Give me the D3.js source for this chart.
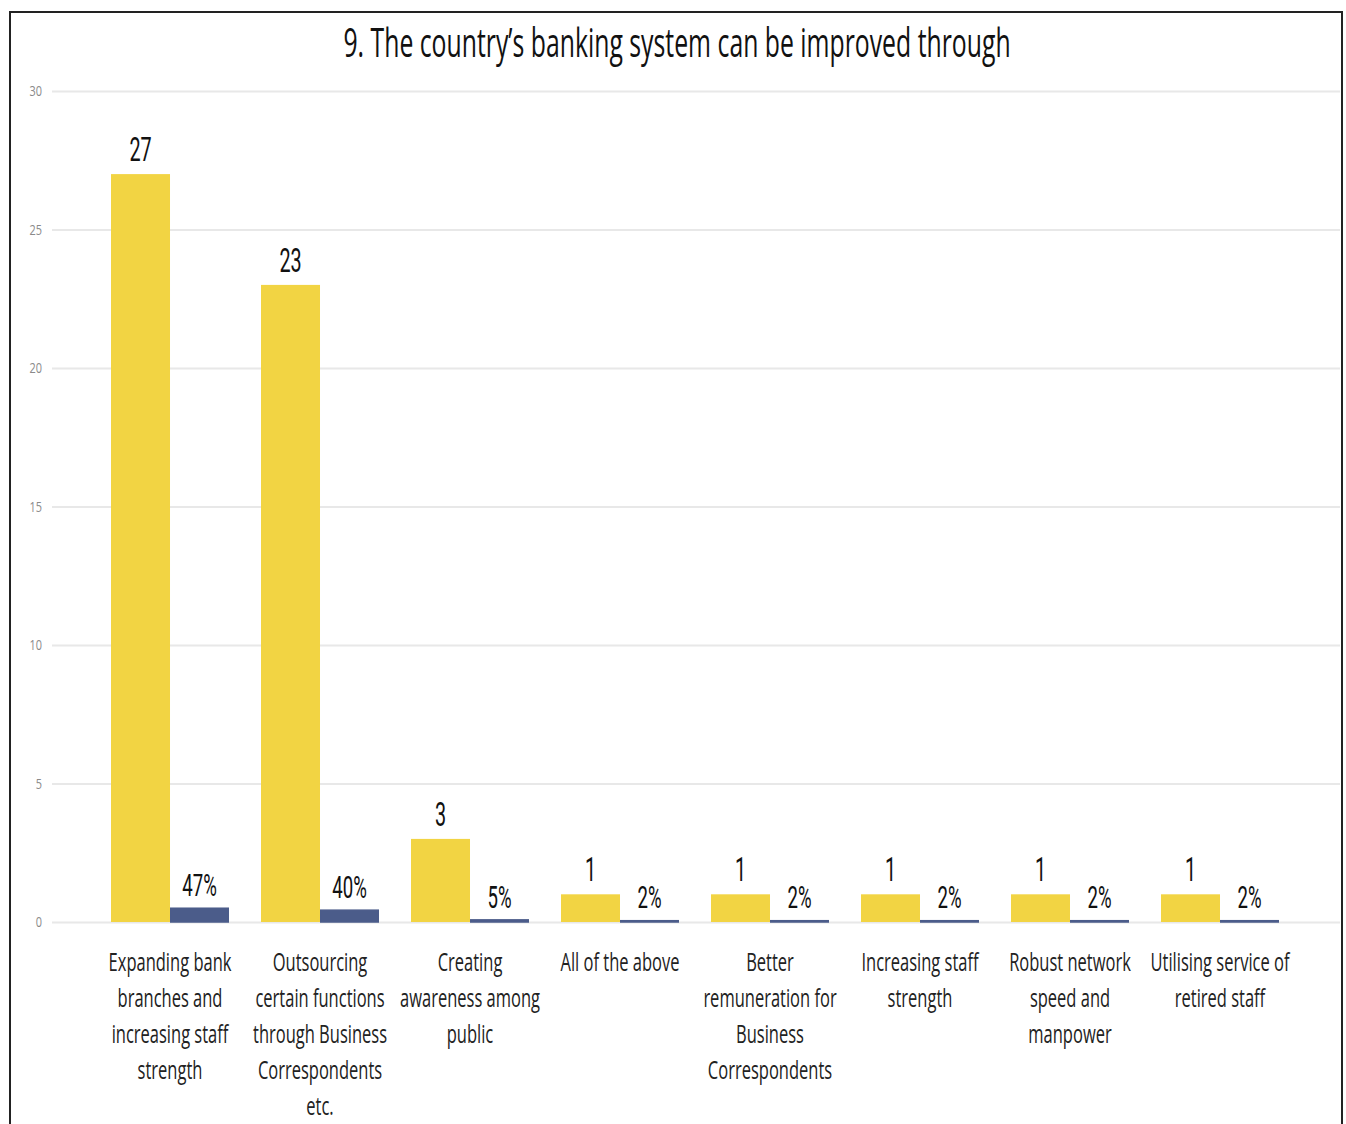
<!DOCTYPE html>
<html>
<head>
<meta charset="utf-8">
<script src="https://cdn.jsdelivr.net/npm/d3@7"></script>
<style>
  html, body { margin: 0; padding: 0; background: #fff; }
  svg { display: block; }
</style>
</head>
<body>
<svg id="chart" width="1346" height="1124"></svg>
<script>
// Survey answers: number of respondents and share of all responses
const categories = [
  "Expanding bank branches and increasing staff strength",
  "Outsourcing certain functions through Business Correspondents etc.",
  "Creating awareness among public",
  "All of the above",
  "Better remuneration for Business Correspondents",
  "Increasing staff strength",
  "Robust network speed and manpower",
  "Utilising service of retired staff"
];
// Wrapped lines for the axis labels
const categoryLines = [
  ["Expanding bank", "branches and", "increasing staff", "strength"],
  ["Outsourcing", "certain functions", "through Business", "Correspondents", "etc."],
  ["Creating", "awareness among", "public"],
  ["All of the above"],
  ["Better", "remuneration for", "Business", "Correspondents"],
  ["Increasing staff", "strength"],
  ["Robust network", "speed and", "manpower"],
  ["Utilising service of", "retired staff"]
];
const counts = [27, 23, 3, 1, 1, 1, 1, 1];
const shares = [0.47, 0.40, 0.05, 0.02, 0.02, 0.02, 0.02, 0.02];
const yTicks = [0, 5, 10, 15, 20, 25, 30];
const titleText = "9. The country\u2019s banking system can be improved through";

const svg = d3.select("#chart");
const W = 1346, H = 1124;

const yellow = "#F2D443";
const blue = "#4B5C8A";

// Outer frame
svg.append("rect")
  .attr("x", 10).attr("y", 12)
  .attr("width", 1332).attr("height", H)
  .attr("fill", "#fff")
  .attr("stroke", "#222").attr("stroke-width", 2);

const plot = { left: 52, right: 1340, top: 91, bottom: 922 };

const y = d3.scaleLinear().domain([0, 30]).range([plot.bottom, plot.top]);

const x0 = d3.scaleBand()
  .domain(categories)
  .range([95, 1295])
  .paddingInner(0.2133)
  .paddingOuter(0.1067);

const x1 = d3.scaleBand()
  .domain(["count", "share"])
  .range([0, x0.bandwidth()]);

// Condensed text: draw at origin, then place & squeeze horizontally
function place(sel, sx) {
  return sel.attr("transform", function () {
    const d = d3.select(this);
    return `translate(${d.attr("data-x")},${d.attr("data-y")}) scale(${sx},1)`;
  });
}

// Gridlines
const yAxis = d3.axisLeft(y)
  .tickValues(yTicks)
  .tickSize(-(plot.right - plot.left))
  .tickPadding(10);

const gAxis = svg.append("g")
  .attr("transform", `translate(${plot.left},0)`)
  .call(yAxis);
gAxis.select(".domain").remove();
gAxis.selectAll(".tick line")
  .attr("stroke", "#e8e8e8").attr("stroke-width", 2);
gAxis.selectAll(".tick text")
  .attr("font-family", "Open Sans, sans-serif")
  .attr("font-size", 14)
  .attr("fill", "#8a8a8a")
  .attr("x", null)
  .attr("dy", "0.35em")
  .attr("transform", "translate(-10,0) scale(0.78,1)");

// Bars
const groups = svg.append("g").selectAll("g")
  .data(categories)
  .join("g")
  .attr("transform", d => `translate(${x0(d)},0)`);

groups.append("rect")
  .attr("x", x1("count"))
  .attr("width", x1.bandwidth())
  .attr("y", (d, i) => y(counts[i]))
  .attr("height", (d, i) => y(0) - y(counts[i]))
  .attr("fill", yellow);

groups.append("rect")
  .attr("x", x1("share") + 0.75)
  .attr("width", x1.bandwidth() - 1.5)
  .attr("y", (d, i) => y(shares[i]) - 0.75)
  .attr("height", (d, i) => y(0) - y(shares[i]) + 0.75)
  .attr("fill", blue)
  .attr("stroke", blue)
  .attr("stroke-width", 1.5);

// Value labels
const valueFont = "Roboto, sans-serif";
groups.append("text")
  .attr("data-x", x1("count") + x1.bandwidth() / 2)
  .attr("data-y", (d, i) => y(counts[i]) - 13)
  .attr("text-anchor", "middle")
  .attr("font-family", valueFont)
  .attr("font-size", 33)
  .attr("fill", "#111")
  .text((d, i) => counts[i])
  .call(place, 0.6);

groups.append("text")
  .attr("data-x", x1("share") + x1.bandwidth() / 2)
  .attr("data-y", (d, i) => y(shares[i]) - 13)
  .attr("text-anchor", "middle")
  .attr("font-family", valueFont)
  .attr("font-size", 31)
  .attr("fill", "#111")
  .text((d, i) => d3.format(".0%")(shares[i]))
  .call(place, 0.6);

// Category labels
groups.append("text")
  .attr("data-x", x0.bandwidth() / 2)
  .attr("data-y", 971)
  .attr("text-anchor", "middle")
  .attr("font-family", "Open Sans, sans-serif")
  .attr("font-size", 25)
  .attr("fill", "#222")
  .call(place, 0.66)
  .selectAll("tspan")
  .data((d, i) => categoryLines[i])
  .join("tspan")
  .attr("x", 0)
  .attr("y", (d, j) => j * 36)
  .text(d => d);

// Title
svg.append("text")
  .attr("data-x", 677)
  .attr("data-y", 57)
  .attr("text-anchor", "middle")
  .attr("font-family", "Open Sans, sans-serif")
  .attr("font-size", 40)
  .attr("fill", "#111")
  .text(titleText)
  .call(place, 0.62);
</script>
</body>
</html>
